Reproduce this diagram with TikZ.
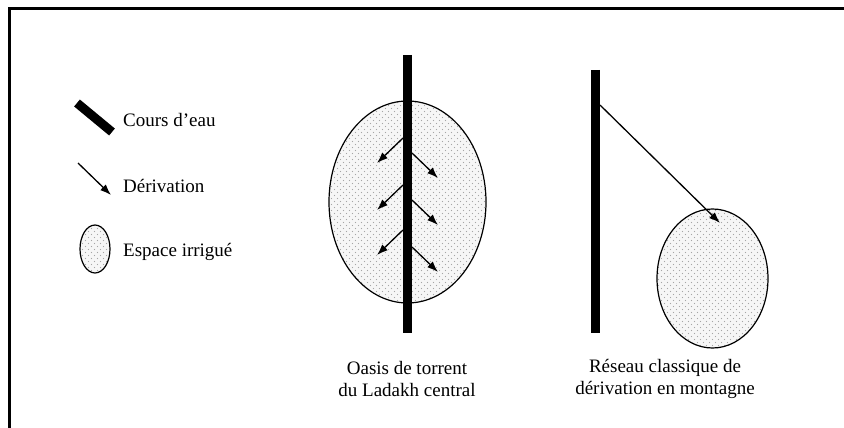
\documentclass[tikz,border=0pt]{standalone}
\usepackage{fontspec}
\setmainfont{Liberation Serif}
\usepackage{tikz}
\usetikzlibrary{arrows.meta, patterns.meta, positioning}

\tikzdeclarepattern{name=stipple, type=uncolored,
  bottom left={(-.1pt,-.1pt)}, top right={(6.1pt,6.1pt)}, tile size={(6pt,6pt)},
  code={\fill (1.5pt,1.5pt) circle (0.7pt); \fill (4.5pt,4.5pt) circle (0.7pt);}}

\tikzset{
  river/.style={line width=9pt, line cap=butt},
  deriv/.style={-{Latex[length=11pt,width=8pt]}, line width=1.3pt},
  irrig/.style={draw, line width=1.2pt, preaction={fill=gray!7}, pattern=stipple, pattern color=gray!70},
  lbl/.style={font=\fontsize{19}{23}\selectfont, anchor=west, inner sep=0pt},
  caption/.style={font=\fontsize{19}{22}\selectfont, align=center, inner sep=0pt},
}

\begin{document}
\begin{tikzpicture}[x=1pt, y=-1pt]
    \useasboundingbox (0,0) rectangle (844,428);
    \draw[line width=3pt] (9,428) -- (9,9) -- (844,9);

    % legend
    \draw[river] (77,103) -- (112,132);
    \node[lbl] (lcours) at (123,120) {Cours d'eau};
    \coordinate (ldfrom) at (78,163);
    \coordinate (ldto) at (111,195);
    \draw[deriv] (ldfrom) -- (ldto);
    \node[lbl] (lderiv) at (123,186) {Dérivation};
    \draw[irrig] (95,249) ellipse [x radius=15, y radius=24];
    \node[lbl] (lespace) at (123,252) {Espace irrigué};

    % oasis de torrent
    \draw[irrig] (407.5,202) ellipse [x radius=78.5, y radius=101];
    \draw[river] (407,55) -- (407,333);
    \foreach \y [count=\i] in {138,185,230} {
        \coordinate (ol\i) at (403,\y);
        \coordinate (olend\i) at (377,\y+25);
        \draw[deriv] (ol\i) -- (olend\i);
    }
    \foreach \y [count=\i] in {153,200,247} {
        \coordinate (or\i) at (412,\y);
        \coordinate (orend\i) at (438,\y+25);
        \draw[deriv] (or\i) -- (orend\i);
    }
    \node[caption] (oasis) at (407,379) {Oasis de torrent\\du Ladakh central};

    % reseau classique
    \draw[river] (595,70) -- (595,333);
    \draw[irrig] (712.5,278.5) ellipse [x radius=55.5, y radius=69.5];
    \coordinate (rfrom) at (600,105);
    \coordinate (rto) at (720,223);
    \draw[deriv] (rfrom) -- (rto);
    \node[caption] (reseau) at (665,379) {Réseau classique de\\dérivation en montagne};
\end{tikzpicture}
\end{document}
